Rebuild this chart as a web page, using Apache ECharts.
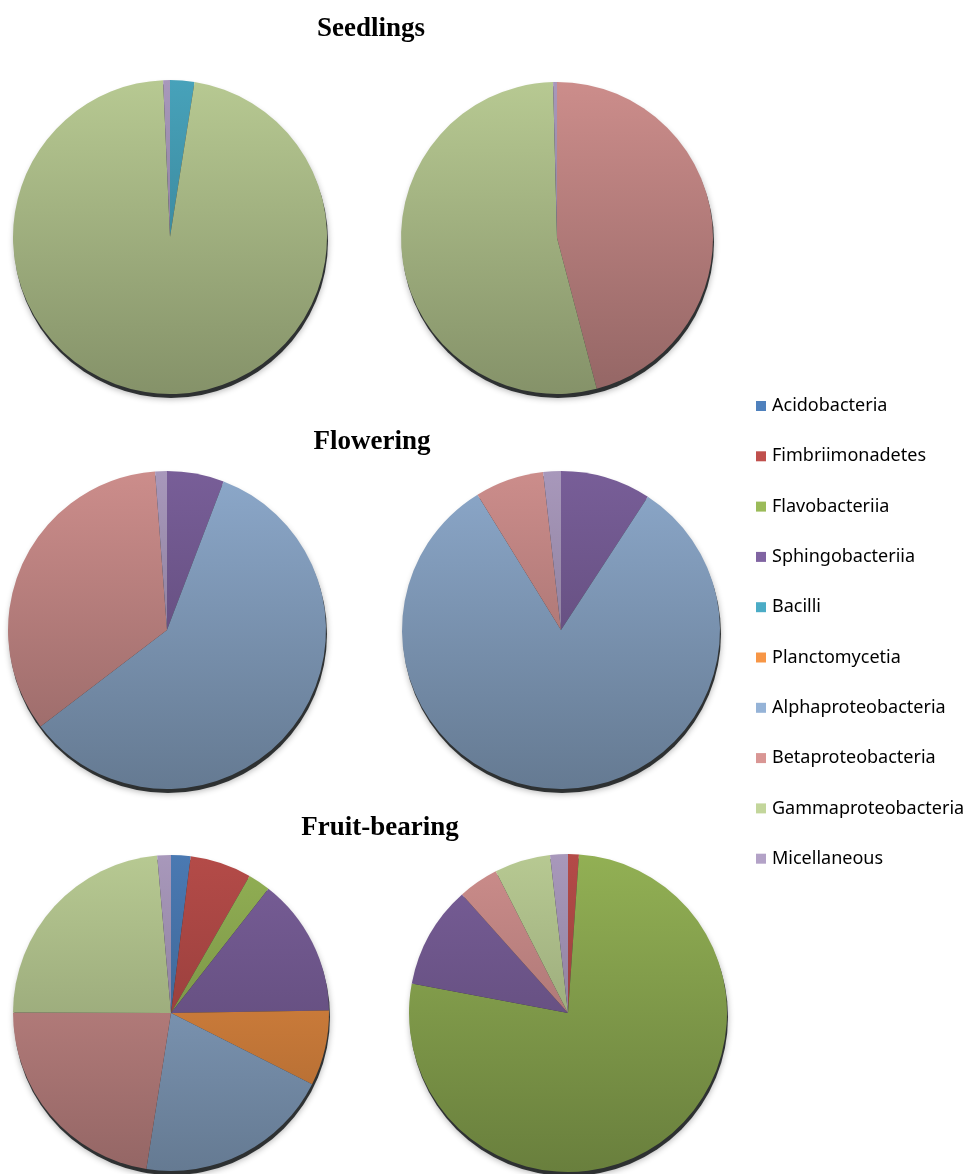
<!DOCTYPE html>
<html>
<head>
<meta charset="utf-8">
<script src="https://cdn.jsdelivr.net/npm/echarts@6/dist/echarts.min.js"></script>
<style>
  html, body { margin: 0; padding: 0; background: #fff; }
  #main { width: 974px; height: 1174px; }
</style>
</head>
<body>
<div id="main"></div>
<script>
// classes, in legend / clockwise order
const categories = ["Acidobacteria", "Fimbriimonadetes", "Flavobacteriia", "Sphingobacteriia", "Bacilli",
  "Planctomycetia", "Alphaproteobacteria", "Betaproteobacteria", "Gammaproteobacteria", "Micellaneous"];
const baseColors = ["#4F81BD", "#C0504D", "#9BBB59", "#8064A2", "#4BACC6",
  "#F79646", "#95B3D7", "#D99694", "#C3D69B", "#B3A2C7"];

// percentages
const seedlingsA = [0, 0, 0, 0, 2.5, 0, 0, 0, 96.8, 0.7];
const seedlingsB = [0, 0, 0, 0, 0, 0, 0, 45.9, 53.7, 0.4];
const floweringA = [0, 0, 0, 5.8, 0, 0, 58.9, 34.2, 0, 1.2];
const floweringB = [0, 0, 0, 9.2, 0, 0, 82.0, 7.0, 0, 1.8];
const fruitA = [2.0, 6.3, 2.3, 14.2, 0, 7.7, 20.1, 22.6, 23.6, 1.4];
const fruitB = [0, 1.1, 76.8, 10.4, 0, 0, 0, 4.1, 5.7, 1.8];

const stageTitles = ["Seedlings", "Flowering", "Fruit-bearing"];

// shade a hex colour by a factor
function shade(hex, f) {
  const n = parseInt(hex.slice(1), 16);
  const ch = [(n >> 16) & 255, (n >> 8) & 255, n & 255].map(v => Math.max(0, Math.min(255, Math.round(v * f))));
  return "rgb(" + ch.join(",") + ")";
}

const pies = [
  { vals: seedlingsA, cx: 170, cy: 237, r: 157 },
  { vals: seedlingsB, cx: 557, cy: 238, r: 156 },
  { vals: floweringA, cx: 167, cy: 630, r: 159 },
  { vals: floweringB, cx: 561, cy: 630, r: 159 },
  { vals: fruitA, cx: 171, cy: 1013, r: 158 },
  { vals: fruitB, cx: 568, cy: 1013, r: 159 }
];

const series = [];
pies.forEach(function (p, k) {
  // soft shadow under the pie
  series.push({
    type: "pie", silent: true, z: 1,
    center: [p.cx + 1, p.cy + 4], radius: p.r,
    label: { show: false }, labelLine: { show: false },
    itemStyle: { color: "rgba(25,28,30,0.88)", shadowBlur: 6, shadowColor: "rgba(0,0,0,0.35)", shadowOffsetY: 1 },
    data: [{ name: "shadow" + k, value: 1 }]
  });
  const data = [];
  p.vals.forEach(function (v, i) {
    if (v <= 0) return;
    data.push({
      name: categories[i], value: v,
      itemStyle: {
        color: {
          type: "linear", global: true,
          x: p.cx, y: p.cy - p.r, x2: p.cx, y2: p.cy + p.r,
          colorStops: [
            { offset: 0, color: shade(baseColors[i], 0.94) },
            { offset: 1, color: shade(baseColors[i], 0.68) }
          ]
        }
      }
    });
  });
  series.push({
    type: "pie", z: 2,
    center: [p.cx, p.cy], radius: p.r,
    startAngle: 90, clockwise: true,
    label: { show: false }, labelLine: { show: false },
    itemStyle: { borderWidth: 0 },
    emphasis: { disabled: true },
    data: data
  });
});

const chart = echarts.init(document.getElementById("main"));
chart.setOption({
  animation: false,
  backgroundColor: "#fff",
  title: [
    { text: stageTitles[0], left: 366, top: 11 },
    { text: stageTitles[1], left: 367, top: 424 },
    { text: stageTitles[2], left: 375, top: 810 }
  ].map(function (t) {
    t.textAlign = "center";
    t.textStyle = { fontFamily: "Liberation Serif", fontWeight: "bold", fontSize: 27, color: "#000" };
    return t;
  }),
  legend: {
    orient: "vertical",
    left: 751, top: 391,
    icon: "rect", itemWidth: 10, itemHeight: 10,
    itemGap: 30.3,
    selectedMode: false,
    textStyle: { fontFamily: "Noto Sans", fontSize: 18, color: "#000", lineHeight: 20, padding: [0, 0, 0, 1] },
    data: categories.map(function (c, i) {
      return { name: c, itemStyle: { color: baseColors[i] } };
    })
  },
  series: series
});
</script>
</body>
</html>
